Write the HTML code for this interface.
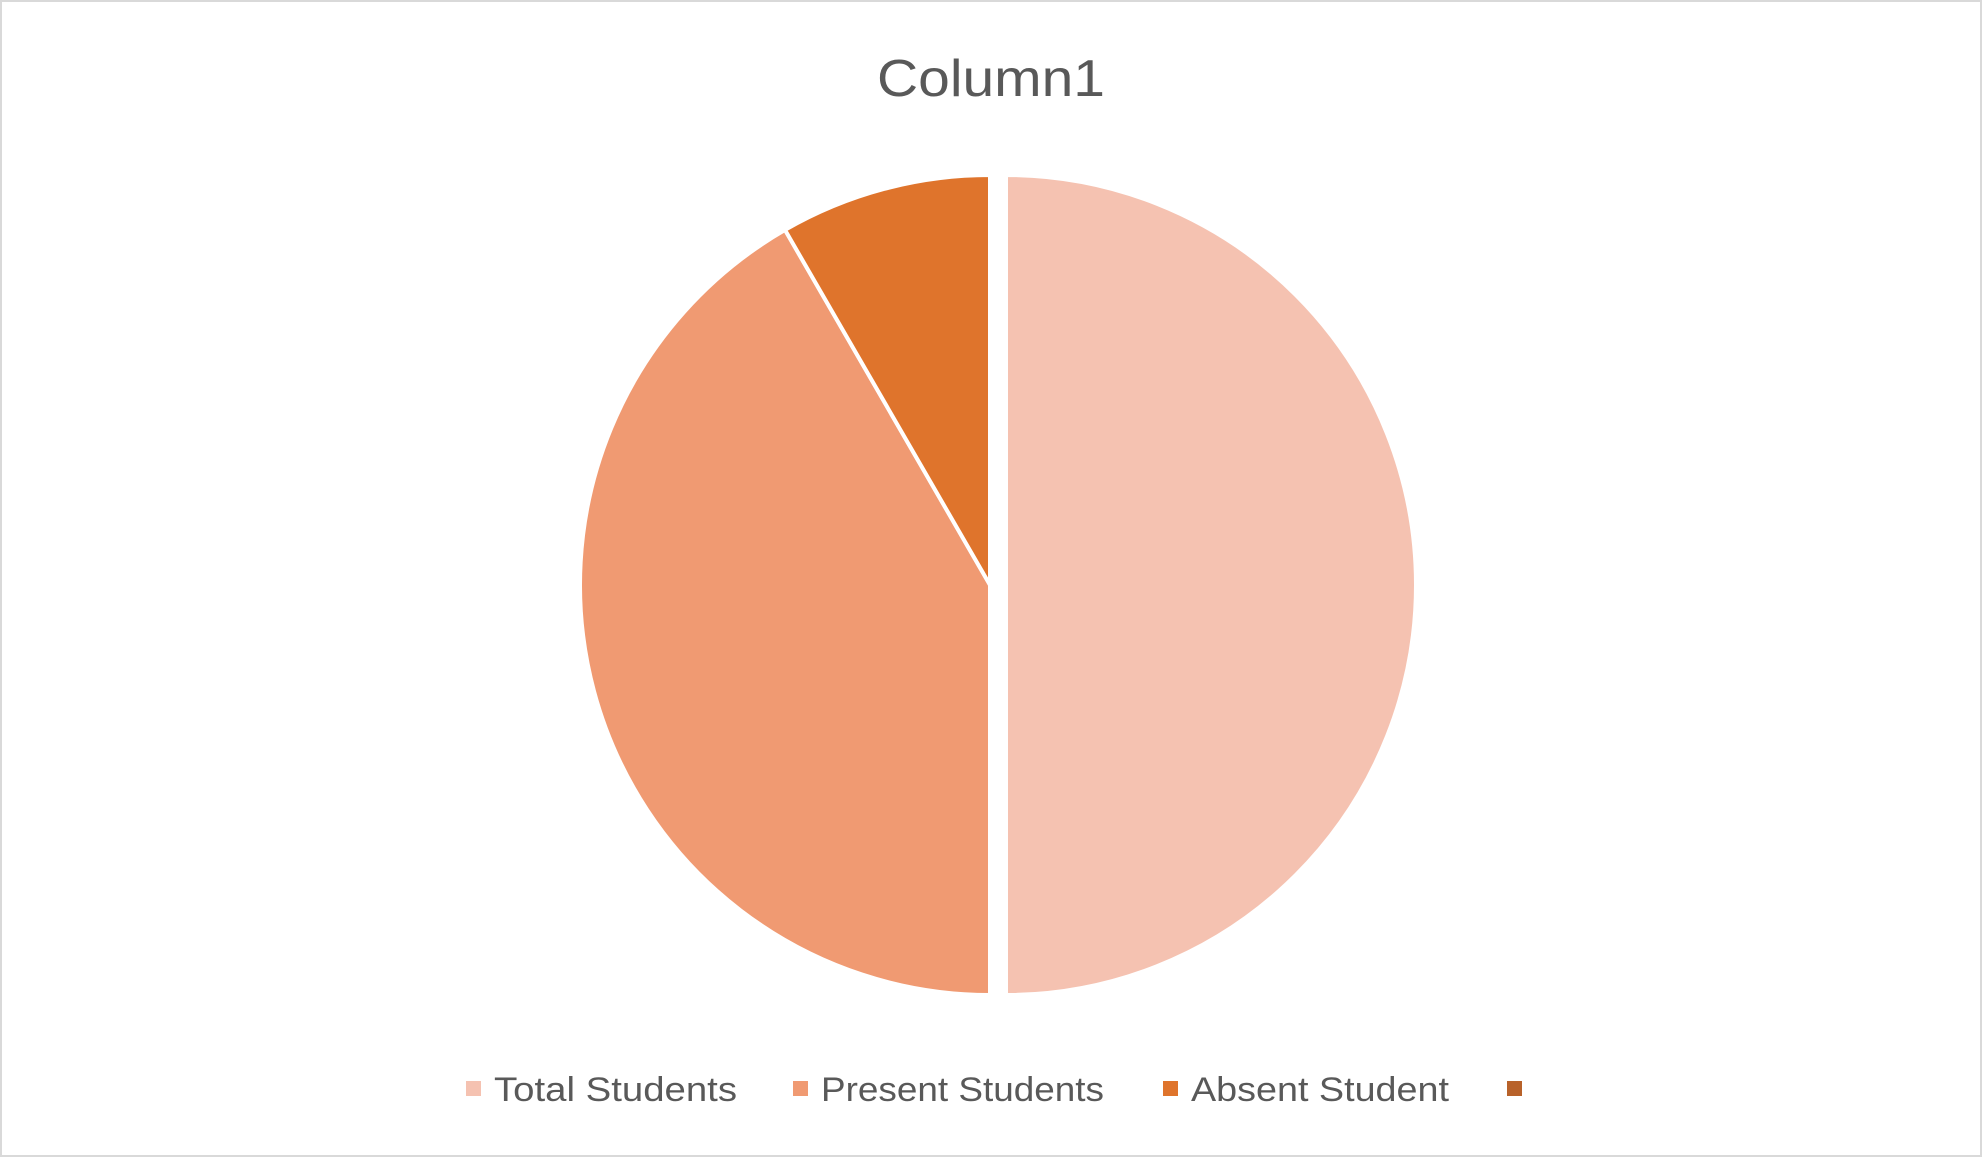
<!DOCTYPE html>
<html><head><meta charset="utf-8"><style>
html,body{margin:0;padding:0;background:#fff;}
svg{display:block;font-family:"Liberation Sans",sans-serif;}
</style></head><body>
<svg id="chart" width="1982" height="1157" viewBox="0 0 1982 1157">
<rect x="1" y="1" width="1980" height="1155" fill="#fff" stroke="#d9d9d9" stroke-width="2"/>
<text x="991" y="96" text-anchor="middle" font-size="52" fill="#595959" textLength="228" lengthAdjust="spacingAndGlyphs">Column1</text>
<g id="slices"></g>
<g id="legend"></g>
</svg>
<script>
const categories = ["Total Students", "Present Students", "Absent Student", ""];
const values = [60, 50, 10, 0];
const colors = ["#f5c2b1", "#f09a72", "#df742c", "#b8622a"];
const legendX = [466, 793, 1163, 1507];
const legendW = [243, 283, 258, 0];

const NS = "http://www.w3.org/2000/svg";
const cy = 585, r = 410;
const total = values.reduce((a, b) => a + b, 0);
const sg = document.getElementById("slices");
let ang = 0;
values.forEach((v, i) => {
  if (v <= 0) return;
  const a0 = ang, a1 = ang + v / total * 2 * Math.PI;
  ang = a1;
  const mid = (a0 + a1) / 2;
  const cx = Math.sin(mid) > 0.01 ? 1006 : 990;
  const x0 = cx + r * Math.sin(a0), y0 = cy - r * Math.cos(a0);
  const x1 = cx + r * Math.sin(a1), y1 = cy - r * Math.cos(a1);
  const large = (a1 - a0) > Math.PI ? 1 : 0;
  const p = document.createElementNS(NS, "path");
  p.setAttribute("d", `M${cx},${cy} L${x0},${y0} A${r},${r} 0 ${large} 1 ${x1},${y1} Z`);
  p.setAttribute("fill", colors[i]);
  p.setAttribute("stroke", "#fff");
  p.setAttribute("stroke-width", "4");
  p.setAttribute("stroke-linejoin", "round");
  
  
  sg.appendChild(p);
});
const lg = document.getElementById("legend");
categories.forEach((c, i) => {
  const s = document.createElementNS(NS, "rect");
  s.setAttribute("x", legendX[i]); s.setAttribute("y", 1081);
  s.setAttribute("width", 15); s.setAttribute("height", 15);
  s.setAttribute("fill", colors[i]);
  
  
  lg.appendChild(s);
  if (c) {
    const t = document.createElementNS(NS, "text");
    t.setAttribute("x", legendX[i] + 28); t.setAttribute("y", 1101);
    t.setAttribute("font-size", "34"); t.setAttribute("fill", "#595959");
    t.setAttribute("textLength", legendW[i]);
    t.setAttribute("lengthAdjust", "spacingAndGlyphs");
    t.textContent = c;
    
    
    lg.appendChild(t);
  }
});
</script>
</body></html>
